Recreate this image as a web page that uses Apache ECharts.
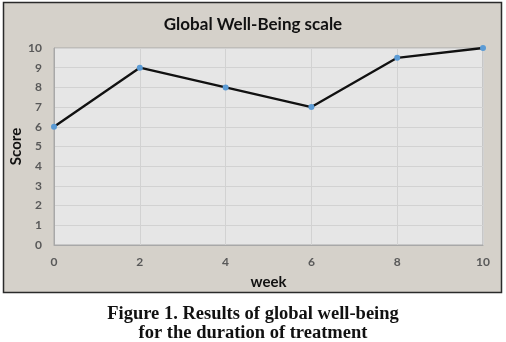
<!DOCTYPE html>
<html><head><meta charset="utf-8">
<script src="https://cdn.jsdelivr.net/npm/echarts@6/dist/echarts.min.js"></script>
<style>html,body{margin:0;padding:0;background:#fff}#c{width:506px;height:342px}</style>
</head><body><div id="c"></div>
<script>
const weeks = [0, 2, 4, 6, 8, 10];
const scores = [6, 9, 8, 7, 9.5, 10];
const chartTitle = 'Global Well-Being scale';
const xName = 'week';
const yName = 'Score';
const captionLines = ['Figure 1. Results of global well-being', 'for the duration of treatment'];

const chart = echarts.init(document.getElementById('c'), null, {renderer: 'canvas'});
const lab = {color: '#595959', fontSize: 12, fontWeight: 'bold', fontFamily: 'Lato'};
chart.setOption({
  animation: false,
  backgroundColor: '#fff',
  graphic: [
    {type: 'rect', z: -10, shape: {x: 3.5, y: 2.5, width: 498, height: 290},
     style: {fill: '#d5d1ca', stroke: '#2a2a2a', lineWidth: 1.5}},
    {type: 'text', left: 'center', top: 305, style: {text: captionLines.join('\n'), fill: '#111',
      font: 'bold 18.5px "Liberation Serif"', textAlign: 'center', lineHeight: 19}}
  ],
  title: {text: chartTitle, left: 'center', top: 11,
    textStyle: {fontFamily: 'Lato', fontWeight: 'bold', fontSize: 17, color: '#111'}},
  grid: {left: 54, right: 23, top: 48, bottom: 97, show: true, backgroundColor: '#e6e6e6',
    borderColor: '#a8a8a8', borderWidth: 1, containLabel: false, outerBoundsMode: 'none'},
  xAxis: {type: 'value', min: 0, max: 10, interval: 2, name: xName, nameLocation: 'middle', nameGap: 30,
    nameMoveOverlap: false,
    nameTextStyle: {fontFamily: 'Lato', fontWeight: 'bold', fontSize: 15, color: '#111'},
    axisLine: {show: true, lineStyle: {color: '#a8a8a8'}}, axisTick: {show: false},
    axisLabel: Object.assign({margin: 11}, lab),
    splitLine: {show: true, lineStyle: {color: '#d2d2d2'}}},
  yAxis: {type: 'value', min: 0, max: 10, interval: 1, name: yName, nameLocation: 'middle', nameGap: 30,
    nameMoveOverlap: false,
    nameTextStyle: {fontFamily: 'Lato', fontWeight: 'bold', fontSize: 15, color: '#111'},
    axisLine: {show: true, lineStyle: {color: '#a8a8a8'}}, axisTick: {show: false},
    axisLabel: Object.assign({margin: 12}, lab),
    splitLine: {show: true, lineStyle: {color: '#d2d2d2'}}},
  series: [{type: 'line', data: weeks.map((w, i) => [w, scores[i]]),
    lineStyle: {color: '#111', width: 2.3}, symbol: 'circle', symbolSize: 6,
    itemStyle: {color: '#5b9bd5'}, z: 3}]
});
</script></body></html>
